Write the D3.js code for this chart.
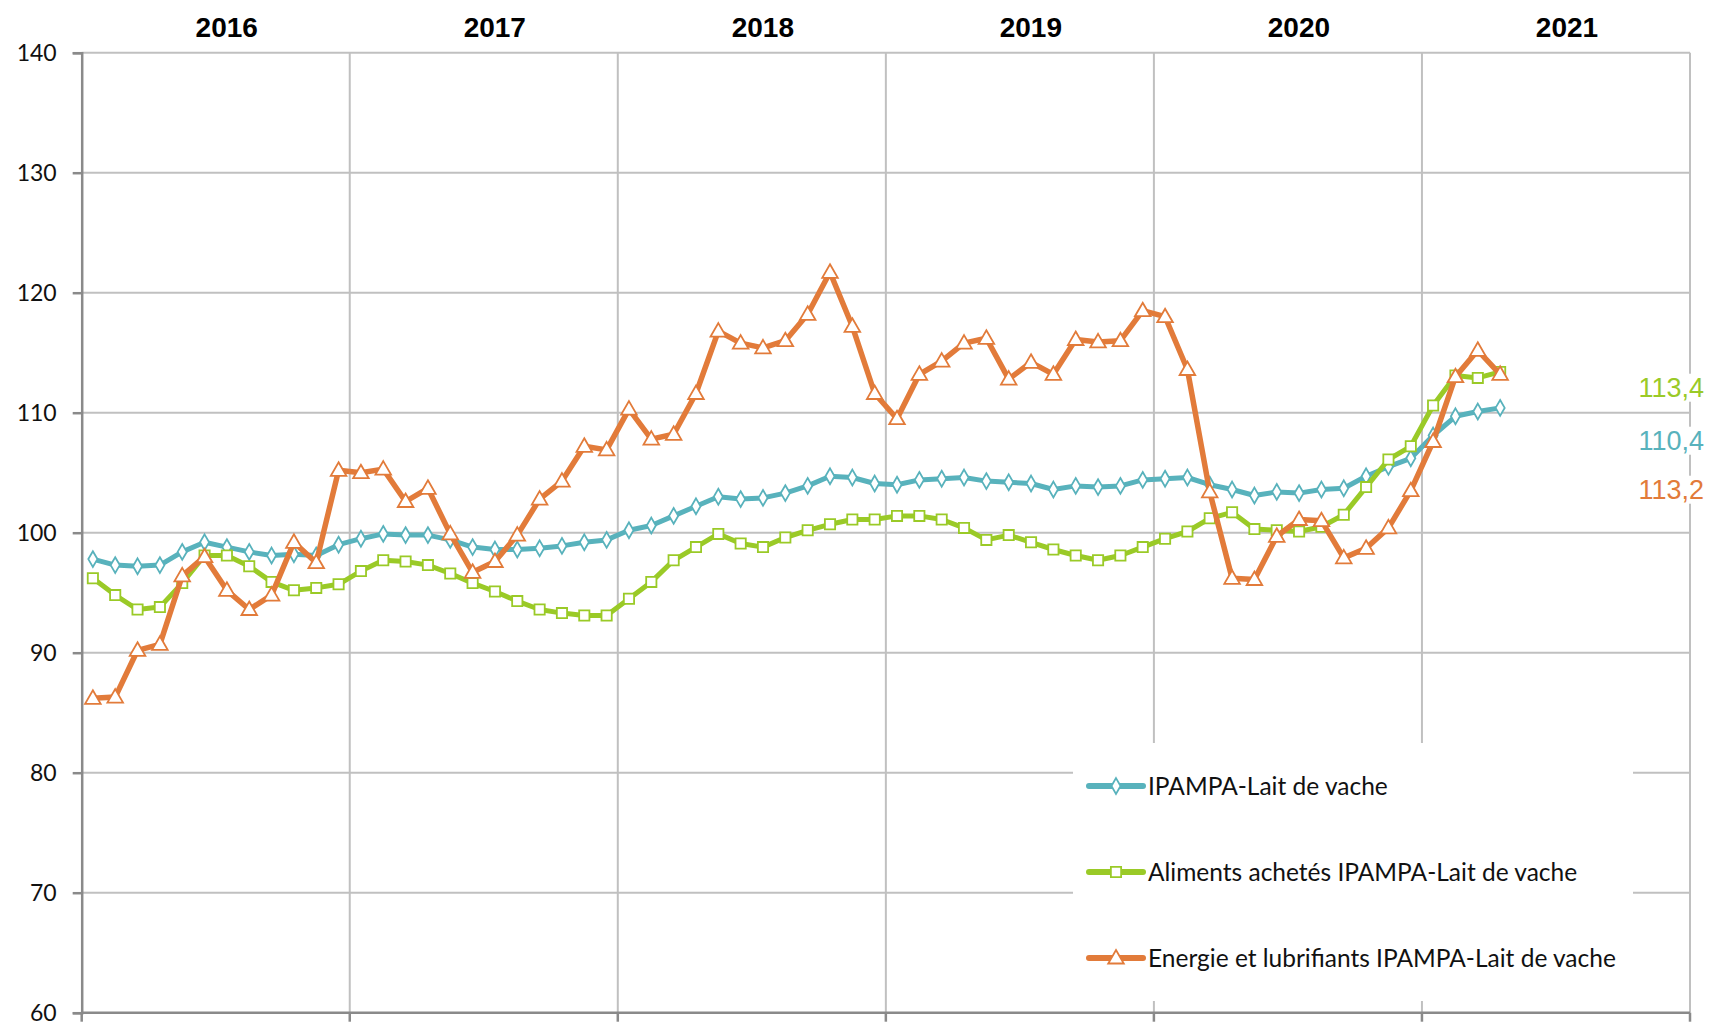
<!DOCTYPE html>
<html>
<head>
<meta charset="utf-8">
<script src="https://cdn.jsdelivr.net/npm/d3@7"></script>
<style>
  body { margin: 0; background: #fff; }
  svg { display: block; }
</style>
</head>
<body>
<div id="chart"></div>
<script>
// monthly index values, jan 2016 -> apr 2021
const years = ["2016", "2017", "2018", "2019", "2020", "2021"];
const months = years.flatMap(y => d3.range(1, 13).map(m => y + "-" + String(m).padStart(2, "0")));

const ipampa = [97.8, 97.3, 97.2, 97.3, 98.4, 99.2, 98.8, 98.4, 98.1, 98.2, 98.1, 99.0,
  99.5, 99.9, 99.8, 99.8, 99.4, 98.8, 98.6, 98.6, 98.7, 98.9, 99.2, 99.4,
  100.2, 100.6, 101.4, 102.2, 103.0, 102.8, 102.9, 103.3, 103.9, 104.7, 104.6, 104.1,
  104.0, 104.4, 104.5, 104.6, 104.3, 104.2, 104.1, 103.6, 103.9, 103.8, 103.9, 104.4,
  104.5, 104.6, 104.0, 103.6, 103.1, 103.4, 103.3, 103.6, 103.7, 104.7, 105.5, 106.2,
  108.1, 109.7, 110.1, 110.4];

const aliments = [96.2, 94.8, 93.6, 93.8, 95.8, 98.1, 98.1, 97.2, 95.9, 95.2, 95.4, 95.7,
  96.8, 97.7, 97.6, 97.3, 96.6, 95.8, 95.1, 94.3, 93.6, 93.3, 93.1, 93.1,
  94.5, 95.9, 97.7, 98.8, 99.9, 99.1, 98.8, 99.6, 100.2, 100.7, 101.1, 101.1,
  101.4, 101.4, 101.1, 100.4, 99.4, 99.8, 99.2, 98.6, 98.1, 97.7, 98.1, 98.8,
  99.5, 100.1, 101.2, 101.7, 100.3, 100.2, 100.1, 100.5, 101.5, 103.8, 106.1, 107.2,
  110.6, 113.1, 112.9, 113.4];

const energie = [86.2, 86.3, 90.2, 90.7, 96.4, 98.0, 95.2, 93.6, 94.8, 99.2, 97.5, 105.2,
  105.0, 105.3, 102.6, 103.7, 99.9, 96.7, 97.6, 99.8, 102.8, 104.3, 107.2, 106.9,
  110.3, 107.8, 108.2, 111.6, 116.8, 115.8, 115.4, 116.0, 118.2, 121.7, 117.2, 111.6,
  109.5, 113.2, 114.3, 115.8, 116.2, 112.8, 114.2, 113.2, 116.1, 115.9, 116.0, 118.5,
  118.0, 113.6, 103.4, 96.2, 96.1, 99.7, 101.1, 101.0, 97.9, 98.7, 100.4, 103.5,
  107.6, 113.0, 115.2, 113.2];

const seriesNames = ["IPAMPA-Lait de vache", "Aliments achetés IPAMPA-Lait de vache", "Energie et lubrifiants IPAMPA-Lait de vache"];
const seriesValues = [ipampa, aliments, energie];
const seriesColors = ["#58b2bc", "#9aca27", "#e27b3a"];
const seriesSymbols = [d3.symbolDiamond, d3.symbolSquare, d3.symbolTriangle];
const yTicks = [60, 70, 80, 90, 100, 110, 120, 130, 140];

const W = 1719, H = 1030;
const plotLeft = 81.7, plotRight = 1690, plotTop = 52.7, plotBottom = 1012.7;

const svg = d3.select("#chart").append("svg")
    .attr("width", W).attr("height", H);

const x = d3.scaleBand().domain(months).range([plotLeft, plotRight]);
const xYear = d3.scaleBand().domain(years).range([plotLeft, plotRight]);
const y = d3.scaleLinear().domain([60, 140]).range([plotBottom, plotTop]);

const gridColor = "#c0c0c0", axisColor = "#8a8a8a";

// horizontal gridlines
svg.append("g").selectAll("line")
  .data(yTicks.filter(d => d > 60))
  .join("line")
    .attr("x1", plotLeft).attr("x2", plotRight)
    .attr("y1", d => y(d)).attr("y2", d => y(d))
    .attr("stroke", gridColor).attr("stroke-width", 2);

// vertical year gridlines (boundaries)
const bounds = years.map(d => xYear(d)).concat([plotRight]);
svg.append("g").selectAll("line")
  .data(bounds.slice(1))
  .join("line")
    .attr("x1", d => d).attr("x2", d => d)
    .attr("y1", plotTop).attr("y2", plotBottom)
    .attr("stroke", gridColor).attr("stroke-width", 2);

// left axis + ticks
const yAxis = d3.axisLeft(y).tickValues(yTicks).tickSize(9).tickPadding(16);
const gy = svg.append("g").attr("transform", `translate(${plotLeft},0)`).call(yAxis);
gy.select(".domain").attr("stroke", axisColor).attr("stroke-width", 2.5);
gy.selectAll(".tick line").attr("stroke", axisColor).attr("stroke-width", 2.5);
gy.selectAll(".tick text")
  .attr("font-family", "Lato, 'Open Sans', sans-serif")
  .attr("font-size", 23).attr("fill", "#111");

// bottom axis line + crossing ticks at year bounds
svg.append("line")
  .attr("x1", plotLeft).attr("x2", plotRight)
  .attr("y1", plotBottom).attr("y2", plotBottom)
  .attr("stroke", axisColor).attr("stroke-width", 2.5);
svg.append("g").selectAll("line")
  .data(bounds)
  .join("line")
    .attr("x1", d => d).attr("x2", d => d)
    .attr("y1", plotBottom).attr("y2", plotBottom + 9)
    .attr("stroke", axisColor).attr("stroke-width", 2.5);

// year labels on top
svg.append("g").selectAll("text")
  .data(years)
  .join("text")
    .attr("x", d => xYear(d) + xYear.bandwidth() / 2 + 11)
    .attr("y", 37)
    .attr("text-anchor", "middle")
    .attr("font-family", "'Liberation Sans', Arial, sans-serif")
    .attr("font-weight", "bold")
    .attr("font-size", 28)
    .text(d => d);

// legend box sits inside plot, hides the grid
const legX = 1073, legY = 743;
svg.append("rect")
  .attr("x", legX).attr("y", legY)
  .attr("width", 1633 - legX).attr("height", 1001 - legY)
  .attr("fill", "#fff");

// lines + markers
const line = d3.line()
    .x((d, i) => x(months[i]) + x.bandwidth() / 2)
    .y(d => y(d));

const markerSize = [72, 105, 105];
const lineWidth = [5, 5, 5.5];

seriesValues.forEach((vals, s) => {
  const g = svg.append("g");
  g.append("path")
    .datum(vals)
    .attr("d", line)
    .attr("fill", "none")
    .attr("stroke", seriesColors[s])
    .attr("stroke-width", lineWidth[s])
    .attr("stroke-linejoin", "round");
  g.selectAll("path.m")
    .data(vals)
    .join("path")
      .attr("class", "m")
      .attr("transform", (d, i) => `translate(${x(months[i]) + x.bandwidth() / 2},${y(d) + (s === 2 ? 1 : 0)})`)
      .attr("d", d3.symbol(seriesSymbols[s], markerSize[s]))
      .attr("fill", "#fff")
      .attr("stroke", seriesColors[s])
      .attr("stroke-width", 1.8);
});

// legend entries
const legRows = [786, 872, 958];
const leg = svg.append("g").selectAll("g")
  .data(seriesNames)
  .join("g")
    .attr("transform", (d, i) => `translate(0,${legRows[i]})`);
leg.append("line")
  .attr("x1", 1089).attr("x2", 1143)
  .attr("stroke", (d, i) => seriesColors[i])
  .attr("stroke-width", 6)
  .attr("stroke-linecap", "round");
leg.append("path")
  .attr("transform", (d, i) => `translate(1116,${i === 2 ? 1 : 0})`)
  .attr("d", (d, i) => d3.symbol(seriesSymbols[i], markerSize[i])())
  .attr("fill", "#fff")
  .attr("stroke", (d, i) => seriesColors[i])
  .attr("stroke-width", 1.8);
leg.append("text")
  .attr("x", 1148)
  .attr("dy", "0.35em")
  .attr("font-family", "Lato, 'Open Sans', sans-serif")
  .attr("font-size", 24.5)
  .attr("fill", "#111")
  .text(d => d);

// last-value labels at right edge, white box behind each
const fmt = v => d3.format(".1f")(v).replace(".", ",");
const endOrder = [1, 0, 2];        // aliments, ipampa, energie top to bottom
const endY = [387, 440, 489];
const endG = svg.append("g");
endOrder.forEach((s, k) => {
  const bg = endG.append("rect").attr("fill", "#fff");
  const t = endG.append("text")
    .attr("x", 1704).attr("y", endY[k])
    .attr("dy", "0.36em")
    .attr("text-anchor", "end")
    .attr("font-family", "'Liberation Sans', Arial, sans-serif")
    .attr("font-size", 27)
    .attr("fill", seriesColors[s])
    .text(fmt(seriesValues[s][seriesValues[s].length - 1]));
  const b = t.node().getBBox();
  bg.attr("x", b.x - 2).attr("y", b.y + 1)
    .attr("width", b.width + 4).attr("height", b.height - 2);
});
</script>
</body>
</html>
